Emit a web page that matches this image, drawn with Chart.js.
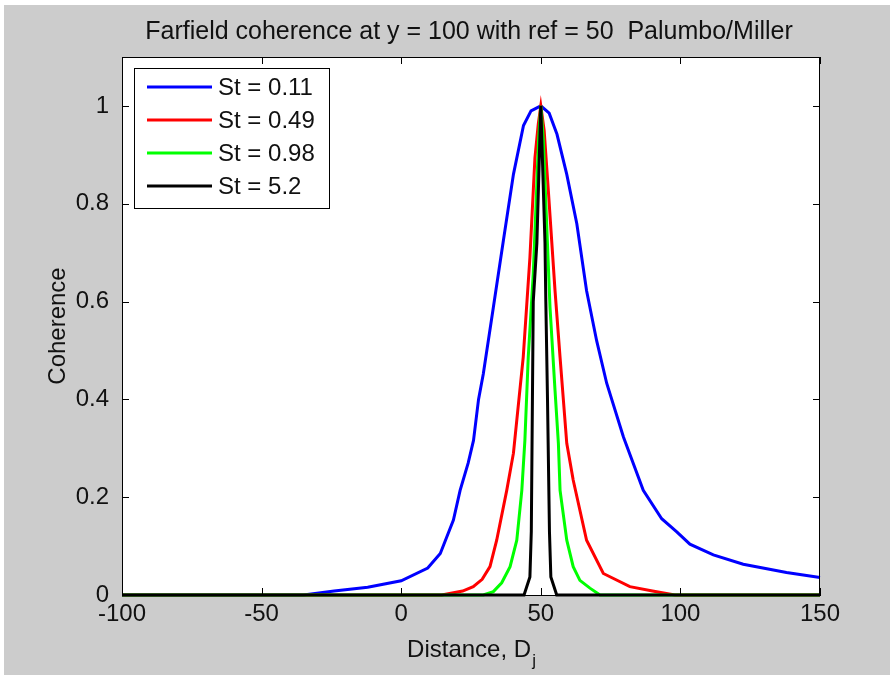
<!DOCTYPE html>
<html lang="en">
<head>
<meta charset="UTF-8">
<title>Farfield coherence</title>
<script src="https://cdn.jsdelivr.net/npm/chart.js"></script>
<style>
  html, body { margin: 0; padding: 0; background: #fff; }
  #wrap { position: absolute; left: 4px; top: 5px; width: 886px; height: 670px; background: #cccccc; }
  canvas { display: block; }
</style>
</head>
<body>
<div id="wrap"><canvas id="chart" width="886" height="670"></canvas></div>
<script>
const chartTitle = "Farfield coherence at y = 100 with ref = 50  Palumbo/Miller";
const xTitle = "Distance, D";
const xTitleSub = "j";
const yTitle = "Coherence";
const xTicks = [-100, -50, 0, 50, 100, 150];
const yTicks = [0, 0.2, 0.4, 0.6, 0.8, 1];
const yTickLabels = ["0", "0.2", "0.4", "0.6", "0.8", "1"];
const seriesLabels = ["St = 0.11", "St = 0.49", "St = 0.98", "St = 5.2"];

// St = 0.11
const blueX = [-100, -35, -24, -12, 0, 9.5, 14, 18.7, 21.1, 24, 25.9, 27.7, 29.4, 33, 36.6, 40.2, 43.8, 46.5, 50,
  53, 55.8, 59.3, 62.9, 66.4, 70, 73.6, 79.6, 86.7, 93.3, 98.7, 103.4, 111.8, 122.5, 138, 150];
const blueY = [0, 0, 0.008, 0.016, 0.029, 0.055, 0.085, 0.153, 0.214, 0.27, 0.316, 0.4, 0.452, 0.588, 0.725, 0.86, 0.96, 0.99, 1,
  0.985, 0.942, 0.86, 0.759, 0.622, 0.52, 0.433, 0.323, 0.214, 0.156, 0.129, 0.104, 0.082, 0.063, 0.046, 0.036];

// St = 0.49
const redX = [-100, 14.5, 22, 25.8, 29, 31.8, 34.2, 37.8, 40.2, 43.7, 46.1, 47.9, 49.1, 50,
  51.2, 52.7, 55.1, 56.9, 59.3, 61.6, 66.4, 72.4, 81.9, 90, 98, 150];
const redY = [0, 0, 0.008, 0.017, 0.032, 0.058, 0.112, 0.214, 0.29, 0.486, 0.69, 0.894, 0.963, 1,
  0.95, 0.827, 0.622, 0.486, 0.31, 0.235, 0.112, 0.044, 0.017, 0.008, 0, 0];

// St = 0.98
const greenX = [-100, 29.4, 33, 36, 39, 41.4, 43.2, 44.3, 45.5, 47.3, 48.5, 49.2, 50,
  50.9, 52.1, 53.3, 55.1, 56.3, 56.9, 59.3, 61.6, 64, 67.6, 71.2, 150];
const greenY = [0, 0, 0.007, 0.025, 0.058, 0.112, 0.214, 0.316, 0.486, 0.657, 0.827, 0.93, 1,
  0.93, 0.759, 0.588, 0.418, 0.31, 0.214, 0.112, 0.058, 0.03, 0.014, 0, 0];

// St = 5.2
const blackX = [-100, 44, 46.1, 46.6, 47.0, 47.3, 48.6, 50, 51.5, 51.8, 52.4, 53.1, 53.6, 55.7, 150];
const blackY = [0, 0, 0.037, 0.13, 0.4, 0.6, 0.72, 1, 0.72, 0.6, 0.4, 0.13, 0.037, 0, 0];

const seriesX = [blueX, redX, greenX, blackX];
const seriesY = [blueY, redY, greenY, blackY];
const seriesColors = ["#0000ff", "#ff0000", "#00ff00", "#000000"];

const FONT = "'Liberation Sans', Arial, Helvetica, sans-serif";

const matlabFrame = {
  id: "matlabFrame",
  beforeDraw(chart) {
    const { ctx, chartArea: a } = chart;
    ctx.save();
    ctx.fillStyle = "#ffffff";
    ctx.fillRect(a.left, a.top, a.right - a.left, a.bottom - a.top);
    ctx.restore();
  },
  afterDraw(chart) {
    const { ctx, chartArea: a } = chart;
    const x = chart.scales.x, y = chart.scales.y;
    ctx.save();

    // box + inward ticks
    ctx.strokeStyle = "#000";
    ctx.lineWidth = 1;
    ctx.strokeRect(a.left + 0.5, a.top + 0.5, a.right - a.left - 1, a.bottom - a.top);
    ctx.beginPath();
    xTicks.forEach(v => {
      const px = Math.round(x.getPixelForValue(v)) + 0.5;
      ctx.moveTo(px, a.bottom); ctx.lineTo(px, a.bottom - 7);
      ctx.moveTo(px, a.top); ctx.lineTo(px, a.top + 7);
    });
    yTicks.forEach(v => {
      const py = Math.round(y.getPixelForValue(v)) + 0.5;
      ctx.moveTo(a.left, py); ctx.lineTo(a.left + 7, py);
      ctx.moveTo(a.right, py); ctx.lineTo(a.right - 7, py);
    });
    ctx.stroke();

    // legend
    const lx = a.left + 12, ly = a.top + 11, lw = 195, lh = 140;
    ctx.fillStyle = "#fff";
    ctx.fillRect(lx, ly, lw, lh);
    ctx.strokeRect(lx + 0.5, ly + 0.5, lw, lh);
    ctx.font = "24px " + FONT;
    ctx.textBaseline = "middle";
    ctx.textAlign = "left";
    chart.data.datasets.forEach((ds, i) => {
      const rowY = ly + 19 + i * 33;
      ctx.strokeStyle = ds.borderColor;
      ctx.lineWidth = 3;
      ctx.beginPath();
      ctx.moveTo(lx + 13, rowY); ctx.lineTo(lx + 78, rowY);
      ctx.stroke();
      ctx.fillStyle = "#111";
      ctx.fillText(ds.label, lx + 84, rowY + 1);
    });

    // title
    ctx.fillStyle = "#111";
    ctx.font = "25px " + FONT;
    ctx.textAlign = "center";
    ctx.textBaseline = "alphabetic";
    ctx.fillText(chartTitle, (a.left + a.right) / 2 - 2, 34);

    // x title with subscript
    const cx = (a.left + a.right) / 2;
    ctx.font = "24px " + FONT;
    const w1 = ctx.measureText(xTitle).width;
    ctx.font = "17px " + FONT;
    const w2 = ctx.measureText(xTitleSub).width;
    const startX = cx - (w1 + w2) / 2;
    ctx.textAlign = "left";
    ctx.font = "24px " + FONT;
    ctx.fillText(xTitle, startX, 652);
    ctx.font = "17px " + FONT;
    ctx.fillText(xTitleSub, startX + w1 + 1, 661);

    // y title
    ctx.translate(54, (a.top + a.bottom) / 2);
    ctx.rotate(-Math.PI / 2);
    ctx.font = "24px " + FONT;
    ctx.textAlign = "center";
    ctx.textBaseline = "middle";
    ctx.fillText(yTitle, 0, 0);

    ctx.restore();
  }
};

const datasets = seriesLabels.map((label, i) => ({
  label: label,
  data: seriesX[i].map((xv, j) => ({ x: xv, y: seriesY[i][j] })),
  borderColor: seriesColors[i],
  backgroundColor: seriesColors[i],
  borderWidth: 3,
  pointRadius: 0,
  tension: 0,
  fill: false,
  clip: 4,
  order: seriesLabels.length - 1 - i
}));

new Chart(document.getElementById("chart"), {
  type: "line",
  data: { datasets: datasets },
  options: {
    responsive: false,
    animation: false,
    layout: { padding: { top: 52, right: 70, left: 0, bottom: 0 } },
    plugins: { legend: { display: false }, tooltip: { enabled: false }, title: { display: false } },
    scales: {
      x: {
        type: "linear",
        min: -100,
        max: 150,
        afterBuildTicks: s => { s.ticks = xTicks.map(v => ({ value: v })); },
        afterFit: s => { s.height = 80; },
        grid: { display: false, drawTicks: false },
        border: { display: true, color: "#000" },
        ticks: { color: "#111", font: { family: FONT, size: 24 }, padding: 5, maxRotation: 0 }
      },
      y: {
        min: 0,
        max: 1.1,
        afterBuildTicks: s => { s.ticks = yTicks.map(v => ({ value: v })); },
        afterFit: s => { s.width = 118; },
        grid: { display: false, drawTicks: false },
        border: { display: true, color: "#000" },
        ticks: {
          color: "#111",
          font: { family: FONT, size: 24 },
          padding: 13,
          callback: (v, i) => yTickLabels[i]
        }
      }
    }
  },
  plugins: [matlabFrame]
});
</script>
</body>
</html>
